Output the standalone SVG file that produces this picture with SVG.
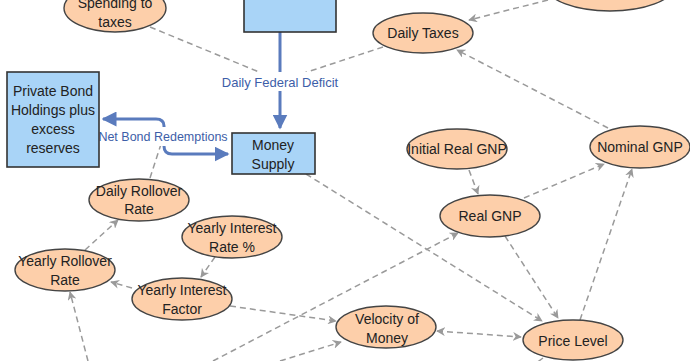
<svg xmlns="http://www.w3.org/2000/svg" width="690" height="361" viewBox="0 0 690 361">
<defs>
<style>
.ell{fill:#fdcfaa;stroke:#444;stroke-width:1.4}
.box{fill:#a9d4f7;stroke:#333;stroke-width:1.6}
.t{font-family:"Liberation Sans",Arial,sans-serif;font-size:14px;fill:#222;text-anchor:middle}
.lk{fill:none;stroke:#9a9a9a;stroke-width:1.5;stroke-dasharray:6,4;marker-end:url(#ah)}
.fl{fill:none;stroke:#5a7bbd;stroke-width:3}
.fll{font-family:"Liberation Sans",Arial,sans-serif;font-size:13px;fill:#3d5ea8;text-anchor:middle}
</style>
<marker id="ah" viewBox="0 0 10 10" refX="9" refY="5" markerWidth="9" markerHeight="9" markerUnits="userSpaceOnUse" orient="auto-start-reverse">
<path d="M0,0 L10,5 L0,10 L3,5 z" fill="#9a9a9a"/>
</marker>
<marker id="fa" viewBox="0 0 10 10" refX="9" refY="5" markerWidth="5" markerHeight="5" orient="auto-start-reverse">
<path d="M0,0 L10,5 L0,10 z" fill="#5a7bbd"/>
</marker>
</defs>

<g id="connectors">
<path class="lk" d="M150,27 L276,79"/>
<path class="lk" d="M383,47 L286,79"/>
<path class="lk" d="M548,0 L469,20"/>
<path class="lk" d="M608,128 L457,50"/>
<path class="lk" d="M469,170 L478,194"/>
<path class="lk" d="M524,198 L604,164"/>
<path class="lk" d="M580,320 L632,169"/>
<path class="lk" d="M505,236 L558,318"/>
<path class="lk" d="M306,174 L542,321"/>
<path class="lk" d="M437,331 L521,337" marker-start="url(#ah)"/>
<path class="lk" d="M230,306 L336,321"/>
<path class="lk" d="M213,361 L458,233"/>
<path class="lk" d="M280,361 L341,342"/>
<path class="lk" d="M88,361 L70,292"/>
<path class="lk" d="M132,288 L111,282"/>
<path class="lk" d="M215,257 L201,277"/>
<path class="lk" d="M85,250 L118,220"/>
<path class="lk" d="M150,178 L163,138"/>
<path fill="none" stroke="#9a9a9a" stroke-width="1.5" stroke-dasharray="6,4" d="M543,358 L532,366"/>
<path class="fl" d="M280,32 L280,128" marker-end="url(#fa)"/>
<path class="fl" d="M228,154 L172,154 Q164,154 164,146 L164,126 Q164,119 156,119 L103,119" marker-start="url(#fa)" marker-end="url(#fa)"/>
<rect x="221" y="72" width="118" height="19" fill="#fff"/>
<text class="fll" x="280" y="87">Daily Federal Deficit</text>
<rect x="93" y="127" width="140" height="19" fill="#fff"/>
<text class="fll" x="163" y="141" style="font-size:12.5px">Net Bond Redemptions</text>
</g>

<g id="spending-to-taxes"><ellipse class="ell" cx="115" cy="8" rx="51" ry="24"/><text class="t" x="115" y="8">Spending to</text><text class="t" x="115" y="27">taxes</text></g>
<g id="deficit-stock"><rect class="box" x="244" y="-30" width="92" height="62"/></g>
<g id="top-right"><ellipse class="ell" cx="610" cy="-13" rx="63" ry="24"/></g>
<g id="daily-taxes"><ellipse class="ell" cx="423" cy="33" rx="50" ry="20"/><text class="t" x="423" y="38">Daily Taxes</text></g>
<g id="private-bond"><rect class="box" x="7" y="72" width="92" height="95"/><text class="t" x="53" y="96">Private Bond</text><text class="t" x="53" y="115">Holdings plus</text><text class="t" x="53" y="134">excess</text><text class="t" x="53" y="153">reserves</text></g>
<g id="money-supply"><rect class="box" x="232" y="133" width="83" height="41"/><text class="t" x="273" y="150">Money</text><text class="t" x="273" y="169">Supply</text></g>
<g id="initial-real-gnp"><ellipse class="ell" cx="457" cy="149" rx="50" ry="20"/><text class="t" x="457" y="154">Initial Real GNP</text></g>
<g id="nominal-gnp"><ellipse class="ell" cx="640" cy="147" rx="50" ry="21"/><text class="t" x="640" y="152">Nominal GNP</text></g>
<g id="daily-rollover-rate"><ellipse class="ell" cx="139" cy="200" rx="50" ry="21"/><text class="t" x="139" y="196">Daily Rollover</text><text class="t" x="139" y="214">Rate</text></g>
<g id="yearly-interest-rate"><ellipse class="ell" cx="232" cy="237" rx="50" ry="21"/><text class="t" x="232" y="233">Yearly Interest</text><text class="t" x="232" y="252">Rate %</text></g>
<g id="yearly-rollover-rate"><ellipse class="ell" cx="65" cy="270" rx="50" ry="21"/><text class="t" x="65" y="266">Yearly Rollover</text><text class="t" x="65" y="285">Rate</text></g>
<g id="yearly-interest-factor"><ellipse class="ell" cx="182" cy="299" rx="50" ry="21"/><text class="t" x="182" y="295">Yearly Interest</text><text class="t" x="182" y="314">Factor</text></g>
<g id="real-gnp"><ellipse class="ell" cx="490" cy="216" rx="50" ry="21"/><text class="t" x="490" y="221">Real GNP</text></g>
<g id="velocity-of-money"><ellipse class="ell" cx="386" cy="327" rx="50" ry="21"/><text class="t" x="387" y="324">Velocity of</text><text class="t" x="387" y="343">Money</text></g>
<g id="price-level"><ellipse class="ell" cx="573" cy="340" rx="50" ry="20"/><text class="t" x="573" y="346">Price Level</text></g>
</svg>
